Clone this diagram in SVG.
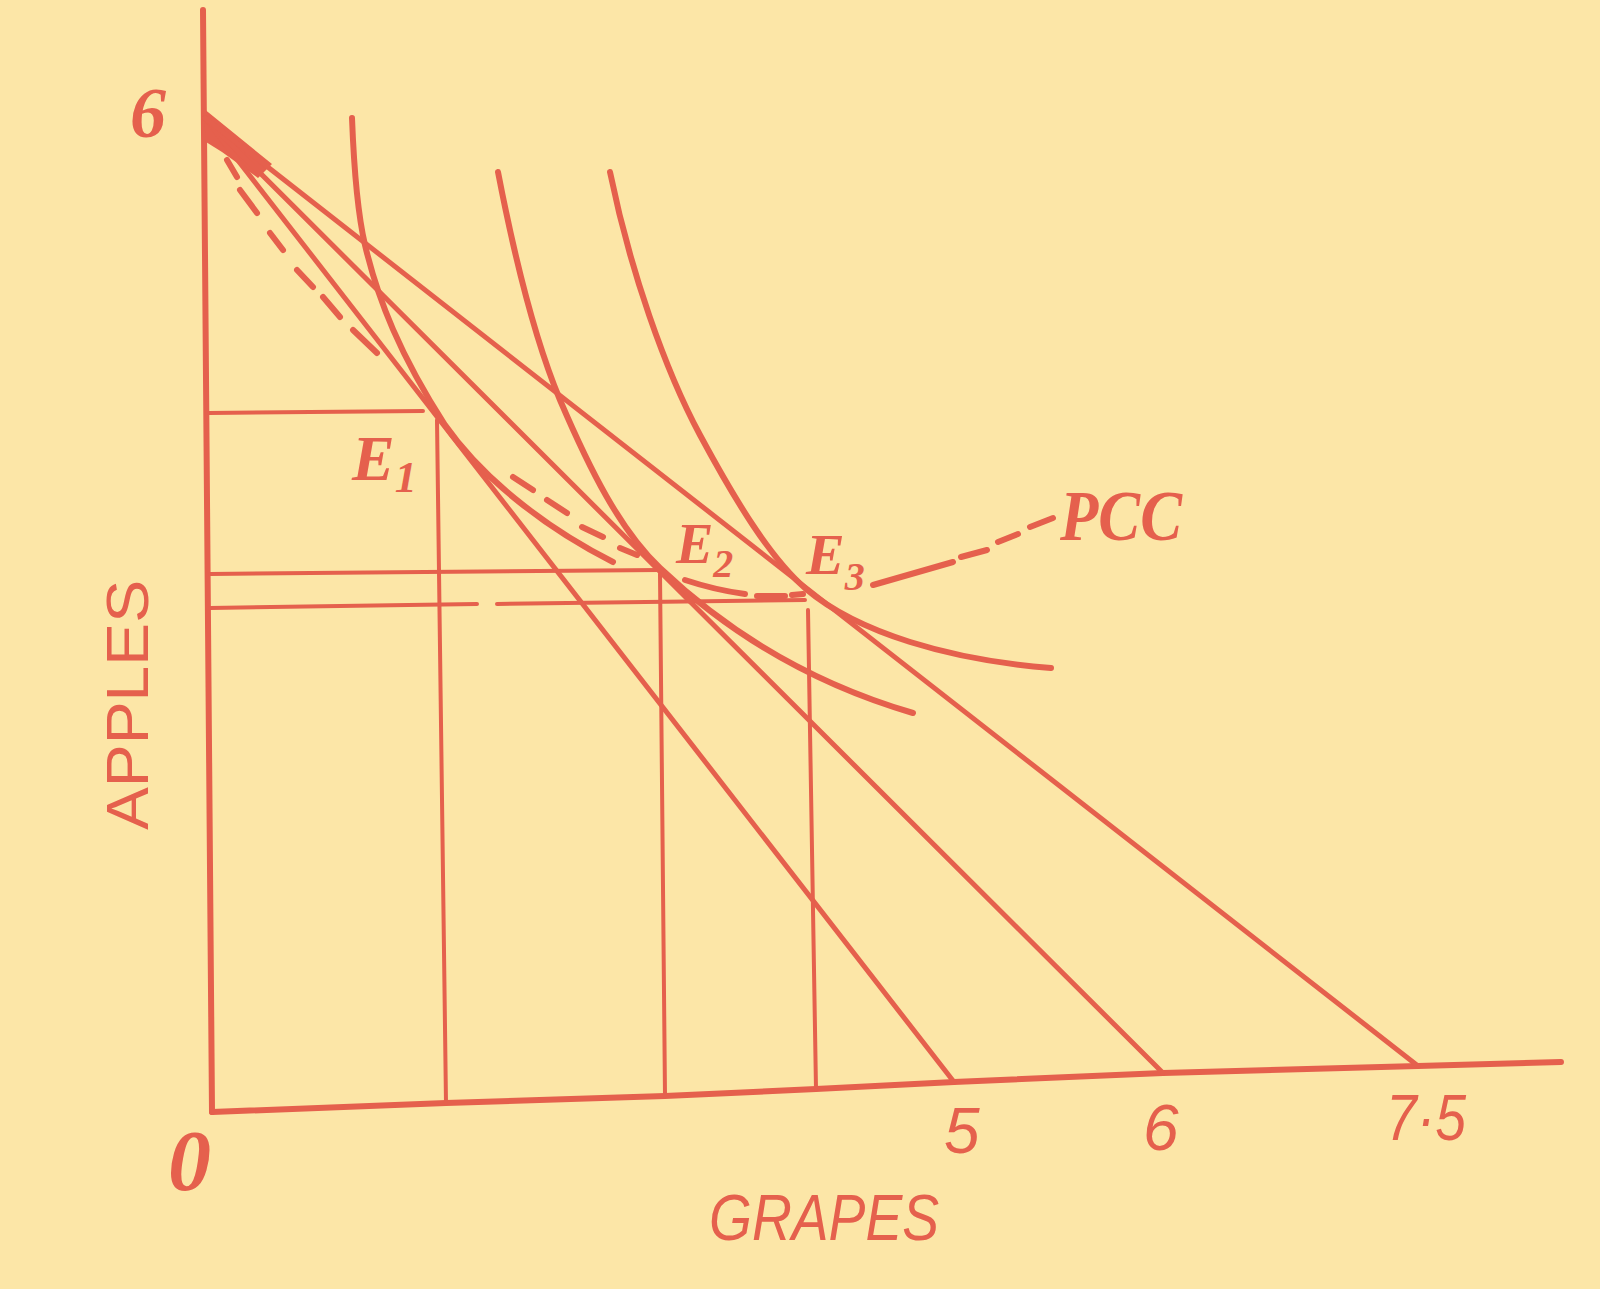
<svg xmlns="http://www.w3.org/2000/svg" width="1600" height="1289" viewBox="0 0 1600 1289">
<style>
.ink{fill:none;stroke:#E5604D;stroke-linecap:round;stroke-linejoin:round}
.ax{stroke-width:6}
.bl{stroke-width:5}
.ic{stroke-width:6}
.gd{stroke-width:4}
.pcc{stroke-width:6}
.lbl{fill:#E5604D;font-family:"Liberation Serif",serif;font-style:italic;font-weight:bold}
.num{fill:#E5604D;font-family:"Liberation Sans",sans-serif}
</style>
<rect width="1600" height="1289" fill="#FCE6A7"/>
<g id="axes">
<path class="ink ax" d="M203,10 L212,1112"/>
<path class="ink ax" d="M212,1112 L446,1103 L665,1096 L816,1089 L954,1082 L1163,1073 L1418,1066 L1561,1062"/>
</g>
<g id="budget-lines">
<path d="M203,108 L272,164 L258,178 L222,152 L206,142 Z" fill="#E5604D"/>
<path class="ink bl" d="M205,118 L954,1082"/>
<path class="ink bl" d="M205,118 L1163,1073"/>
<path class="ink bl" d="M205,118 L1418,1066"/>
</g>
<g id="guides">
<path class="ink gd" d="M209,413 L423,411"/>
<path class="ink gd" d="M437,420 L446,1103"/>
<path class="ink gd" d="M210,574 L660,570"/>
<path class="ink gd" d="M660,574 L665,1096"/>
<path class="ink gd" d="M210,608 L477,604 M497,604 L805,600"/>
<path class="ink gd" d="M808,610 L816,1089"/>
</g>
<g id="indifference-curves">
<path id="IC1" class="ink ic" d="M352,118 C354,170 358,215 365,245 C378,300 400,355 445,425 C480,475 540,525 613,562"/>
<path id="IC2" class="ink ic" d="M498,172 C515,260 535,340 560,400 C590,470 620,530 660,568 C720,625 800,680 913,713"/>
<path id="IC3" class="ink ic" d="M610,172 C630,270 665,370 700,435 C735,500 770,558 806,589 C858,633 950,660 1051,668"/>
</g>
<g id="pcc">
<path class="ink pcc" d="M227,160 L237,177 M240,190 L257,213 M270,233 L283,250 M297,270 L313,287 M323,297 L340,317 M353,330 L377,353"/>
<path class="ink pcc" d="M513,477 L533,490 M547,500 L567,513 M582,527 L603,537 M620,548 L637,555"/>
<path class="ink pcc" d="M685,580 Q715,590 745,594 M757,596 L785,596 M792,595 L803,594"/>
<path class="ink pcc" d="M873,585 L953,562 M961,557 L987,550 M998,542 L1018,534 M1030,527 L1053,518"/>
</g>
<g id="labels">
<text class="lbl" x="130" y="137" font-size="72">6</text>
<text class="lbl" x="352" y="480" font-size="64">E<tspan font-size="44" dy="12">1</tspan></text>
<text class="lbl" x="676" y="563" font-size="56">E<tspan font-size="40" dy="14">2</tspan></text>
<text class="lbl" x="806" y="574" font-size="58">E<tspan font-size="40" dy="16">3</tspan></text>
<text class="lbl" x="1060" y="540" font-size="72" textLength="122" lengthAdjust="spacingAndGlyphs">PCC</text>
<text class="lbl" x="168" y="1190" font-size="86" font-weight="normal">0</text>
<text class="num" x="944" y="1153" font-size="64" font-style="italic">5</text>
<text class="num" x="1143" y="1150" font-size="64" font-style="italic">6</text>
<text class="num" x="1386" y="1140" font-size="64" font-style="italic" textLength="80" lengthAdjust="spacingAndGlyphs">7·5</text>
<text class="num" x="709" y="1240" font-size="64" font-style="italic" textLength="230" lengthAdjust="spacingAndGlyphs">GRAPES</text>
<text class="num" transform="translate(148,830) rotate(-90)" x="0" y="0" font-size="60" textLength="250" lengthAdjust="spacingAndGlyphs">APPLES</text>
</g>
</svg>
